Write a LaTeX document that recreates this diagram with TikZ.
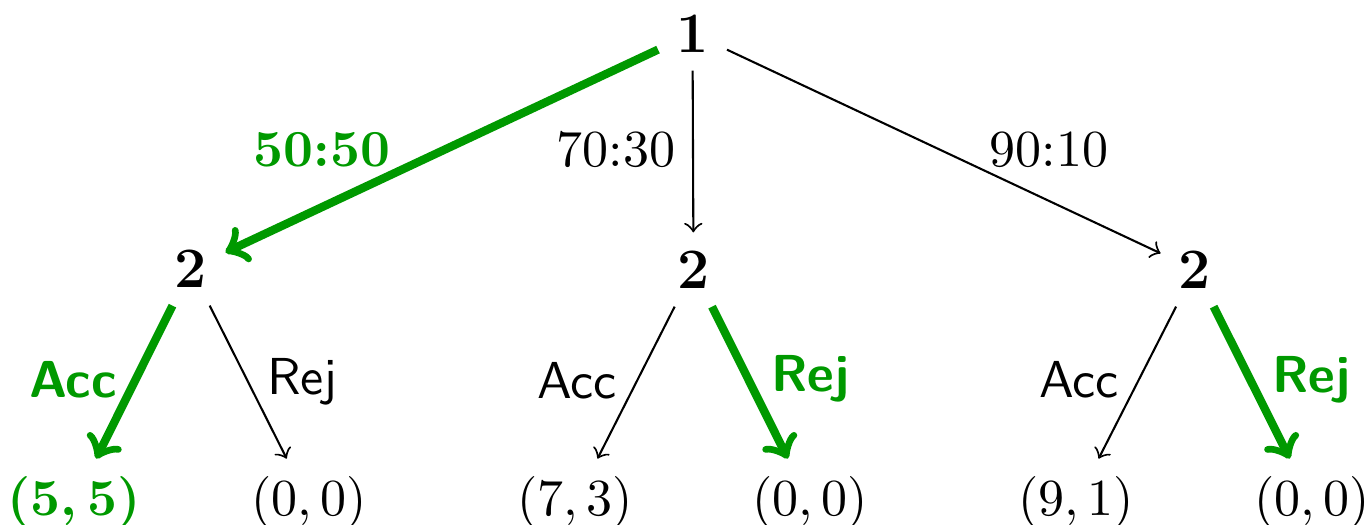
\documentclass[tikz,border=0pt]{standalone}
\usepackage{xcolor}
\definecolor{pathgreen}{RGB}{0,153,0}
\begin{document}
\begin{tikzpicture}[x=0.19231pt,y=-0.19231pt,
  nd/.style={font=\fontsize{11}{13}\selectfont\bfseries},
  leaf/.style={font=\fontsize{10}{12}\selectfont},
  gleaf/.style={font=\fontsize{10}{12}\selectfont\boldmath, text=pathgreen},
  lab/.style={anchor=base, font=\fontsize{10}{12}\selectfont},
  glab/.style={anchor=base, font=\fontsize{10}{12}\selectfont\bfseries, text=pathgreen},
  slab/.style={anchor=base, font=\fontsize{10}{12}\selectfont\sffamily},
  gslab/.style={anchor=base, font=\fontsize{10}{12}\selectfont\sffamily\bfseries, text=pathgreen},
  plain/.style={->, line width=0.4pt},
  chosen/.style={->, line width=1.6pt, draw=pathgreen}]
\useasboundingbox (0,0) rectangle (1367,525);
% decision nodes
\node[nd] (r) at (692.5,33.5) {1};
\node[nd] (a) at (191,268.5) {2};
\node[nd] (b) at (693.5,269.5) {2};
\node[nd] (c) at (1195,269.5) {2};
% leaves
\node[gleaf] (a1) at (74,503) {$(5,5)$};
\node[leaf] (a2) at (309,503) {$(0,0)$};
\node[leaf] (b1) at (575,503) {$(7,3)$};
\node[leaf] (b2) at (810,503) {$(0,0)$};
\node[leaf] (c1) at (1076,503) {$(9,1)$};
\node[leaf] (c2) at (1312,503) {$(0,0)$};
% edges
\draw[chosen] (r) -- (a);
\draw[plain] (r) -- (b);
\draw[plain] (r) -- (c);
\draw[chosen] (a) -- (a1);
\draw[plain] (a) -- (a2);
\draw[plain] (b) -- (b1);
\draw[chosen] (b) -- (b2);
\draw[plain] (c) -- (c1);
\draw[chosen] (c) -- (c2);
% labels
\node[glab] (l1) at (322,167) {50:50};
\node[lab] (l2) at (616,167) {70:30};
\node[lab] (l3) at (1049,167) {90:10};
\node[gslab] (la1) at (73,398) {Acc};
\node[slab] (la2) at (302.5,395) {Rej};
\node[slab] (lb1) at (577,399) {Acc};
\node[gslab] (lb2) at (810,392) {Rej};
\node[slab] (lc1) at (1079,398) {Acc};
\node[gslab] (lc2) at (1311,393) {Rej};
\end{tikzpicture}
\end{document}
